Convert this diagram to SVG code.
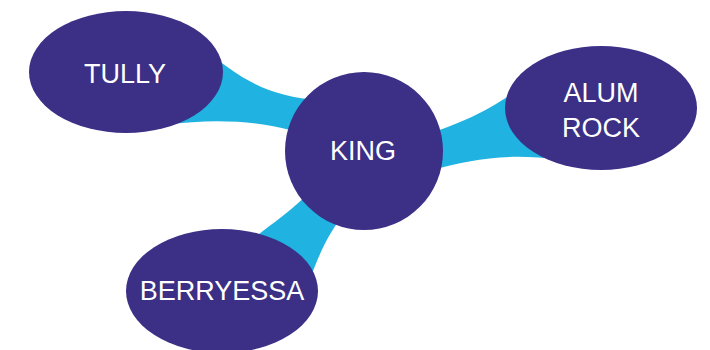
<svg xmlns="http://www.w3.org/2000/svg" width="710" height="350" viewBox="0 0 710 350">
<style>
.node{fill:#3B2F86}
.link{fill:#20B2E0;stroke:none}
.lbl{fill:#ffffff;font-family:"Liberation Sans",Arial,sans-serif;font-size:27px;text-anchor:middle}
</style>
<rect width="710" height="350" fill="#ffffff"/>
<g id="connectors">
<path class="link" d="M 200 45 C 240 80, 270 97, 320 100 L 320 140 C 280 124, 230 116, 165 125 Z"/>
<path class="link" d="M 425 135 C 465 122, 490 110, 520 88 L 560 160 C 510 153, 475 158, 425 172 Z"/>
<path class="link" d="M 245 245 C 270 225, 290 212, 310 192 L 345 212 C 330 232, 320 250, 308 285 Z"/>
</g>
<g id="tully"><ellipse class="node" cx="126" cy="72" rx="97" ry="61"/><text class="lbl" x="125" y="83">TULLY</text></g>
<g id="king"><circle class="node" cx="364" cy="151" r="79"/><text class="lbl" x="363" y="160">KING</text></g>
<g id="alum-rock"><ellipse class="node" cx="601" cy="108" rx="96" ry="62"/><text class="lbl" x="601" y="102">ALUM</text><text class="lbl" x="601" y="137">ROCK</text></g>
<g id="berryessa"><ellipse class="node" cx="222" cy="291" rx="96" ry="62"/><text class="lbl" x="222" y="300">BERRYESSA</text></g>
</svg>
